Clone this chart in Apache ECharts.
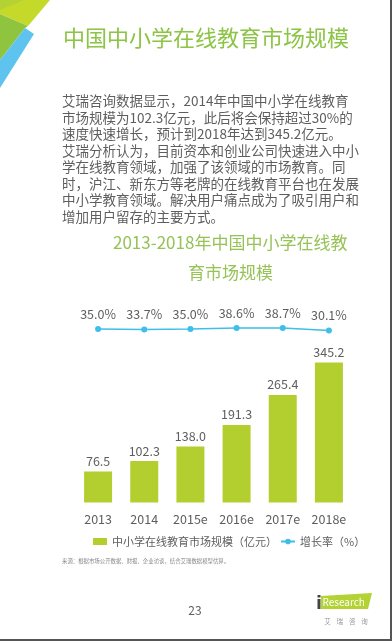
<!DOCTYPE html>
<html>
<head>
<meta charset="utf-8">
<script src="https://cdn.jsdelivr.net/npm/echarts@6/dist/echarts.min.js"></script>
<style>
html,body{margin:0;padding:0;background:#fff;}
#main{width:392px;height:641px;}
</style>
</head>
<body>
<div id="main"></div>
<script>
const categories = ['2013', '2014', '2015e', '2016e', '2017e', '2018e'];
const marketSize = [76.5, 102.3, 138.0, 191.3, 265.4, 345.2];
const growthRate = [35.0, 33.7, 35.0, 38.6, 38.7, 30.1];
const seriesNames = ['中小学在线教育市场规模（亿元）', '增长率（%）'];
const pageTitle = '中国中小学在线教育市场规模';
const chartTitleLines = ['2013-2018年中国中小学在线教', '育市场规模'];
const paragraphLines = [
  '艾瑞咨询数据显示，2014年中国中小学在线教育',
  '市场规模为102.3亿元，此后将会保持超过30%的',
  '速度快速增长，预计到2018年达到345.2亿元。',
  '艾瑞分析认为，目前资本和创业公司快速进入中小',
  '学在线教育领域，加强了该领域的市场教育。同',
  '时，沪江、新东方等老牌的在线教育平台也在发展',
  '中小学教育领域。解决用户痛点成为了吸引用户和',
  '增加用户留存的主要方式。'
];
const sourceText = '来源：根据市场公开数据、财报、企业访谈，结合艾瑞数据模型估算。';
const pageNumber = '23';

const FONT = "'Noto Sans CJK SC', 'Microsoft YaHei', sans-serif";
const GRAY = '#5e5e5e';

const chart = echarts.init(document.getElementById('main'), null, {renderer: 'canvas'});

const graphics = [
  // decorative corner
  {type: 'polygon', shape: {points: [[0,0],[50,0],[28,26],[0,14]]}, style: {fill: '#c4d92a'}},
  {type: 'polygon', shape: {points: [[0,0],[24,0],[0,10]]}, style: {fill: '#b5d235'}},
  {type: 'polygon', shape: {points: [[0,14],[28,26],[25,28],[0,60]]}, style: {fill: '#8fc43e'}},
  {type: 'polygon', shape: {points: [[25,28],[34,34],[0,88],[0,60]]}, style: {fill: '#5ec3ee'}},
  // borders
  {type: 'rect', shape: {x: 390, y: 0, width: 2, height: 641}, style: {fill: '#555'}},
  {type: 'rect', shape: {x: 0, y: 639, width: 392, height: 2}, style: {fill: '#555'}},
  // page title
  {type: 'text', x: 63, y: 38, style: {text: pageTitle, fill: '#8cc445', font: '22px ' + FONT, textVerticalAlign: 'middle'}},
  // chart title
  {type: 'text', x: 113, y: 243, style: {text: chartTitleLines[0], fill: '#96c256', font: '17px ' + FONT, textAlign: 'left', textVerticalAlign: 'middle'}},
  {type: 'text', x: 188, y: 273, style: {text: chartTitleLines[1], fill: '#96c256', font: '17px ' + FONT, textAlign: 'left', textVerticalAlign: 'middle'}},
  // source
  {type: 'text', x: 62, y: 561, style: {text: sourceText, fill: '#888', font: '5.4px ' + FONT, textVerticalAlign: 'middle'}},
  // page number
  {type: 'text', x: 195, y: 610, style: {text: pageNumber, fill: GRAY, font: '12px ' + FONT, textAlign: 'center', textVerticalAlign: 'middle'}},
  // logo
  {type: 'polygon', shape: {points: [[321,596],[372,593],[368,609],[321,609]]}, style: {fill: '#b3d233'}},
  {type: 'rect', shape: {x: 317.5, y: 599, width: 3, height: 10}, style: {fill: '#444'}},
  {type: 'rect', shape: {x: 317.5, y: 595, width: 3, height: 2.5}, style: {fill: '#444'}},
  {type: 'text', x: 322.5, y: 602, style: {text: 'Research', fill: '#fff', font: '10px ' + FONT, textVerticalAlign: 'middle'}},
  {type: 'text', x: 346, y: 622, style: {text: '艾    瑞    咨    询', fill: '#999', font: '6.5px ' + FONT, textAlign: 'center', textVerticalAlign: 'middle'}}
];
paragraphLines.forEach(function (line, i) {
  graphics.push({type: 'text', x: 62, y: 101 + i * 16.5, style: {text: line, fill: GRAY, font: '13.5px ' + FONT, textVerticalAlign: 'middle'}});
});

chart.setOption({
  animation: false,
  textStyle: {fontFamily: FONT},
  graphic: graphics,
  legend: {
    left: 93, top: 536, width: 300, padding: 0,
    itemWidth: 14, itemHeight: 7, itemGap: 3,
    textStyle: {color: GRAY, fontSize: 11, fontFamily: FONT},
    data: [{name: seriesNames[0], icon: 'rect'}, {name: seriesNames[1]}]
  },
  grid: [
    {left: 75, width: 277, top: 340.3, height: 162.2},
    {left: 75, width: 277, top: 318, height: 20}
  ],
  xAxis: [
    {type: 'category', data: categories, gridIndex: 0,
     axisLine: {show: false}, axisTick: {show: false},
     axisLabel: {color: GRAY, fontSize: 12.5, margin: 10}},
    {type: 'category', data: categories, gridIndex: 1, show: false}
  ],
  yAxis: [
    {type: 'value', gridIndex: 0, min: 0, max: 400, show: false},
    {type: 'value', gridIndex: 1, min: 2, max: 76, show: false}
  ],
  series: [
    {name: seriesNames[0], type: 'bar', data: marketSize, xAxisIndex: 0, yAxisIndex: 0,
     barWidth: 28, itemStyle: {color: '#b3cf2f'},
     label: {show: true, position: 'top', distance: 4, color: GRAY, fontSize: 12.5,
       formatter: function (p) { return p.value.toFixed(1); }}},
    {name: seriesNames[1], type: 'line', data: growthRate, xAxisIndex: 1, yAxisIndex: 1,
     symbol: 'circle', symbolSize: 6,
     lineStyle: {color: '#3dbfe9', width: 1.5}, itemStyle: {color: '#3dbfe9'},
     label: {show: true, position: 'top', distance: 6, color: GRAY, fontSize: 12.5,
       formatter: function (p) { return p.value.toFixed(1) + '%'; }}}
  ]
});
</script>
</body>
</html>
